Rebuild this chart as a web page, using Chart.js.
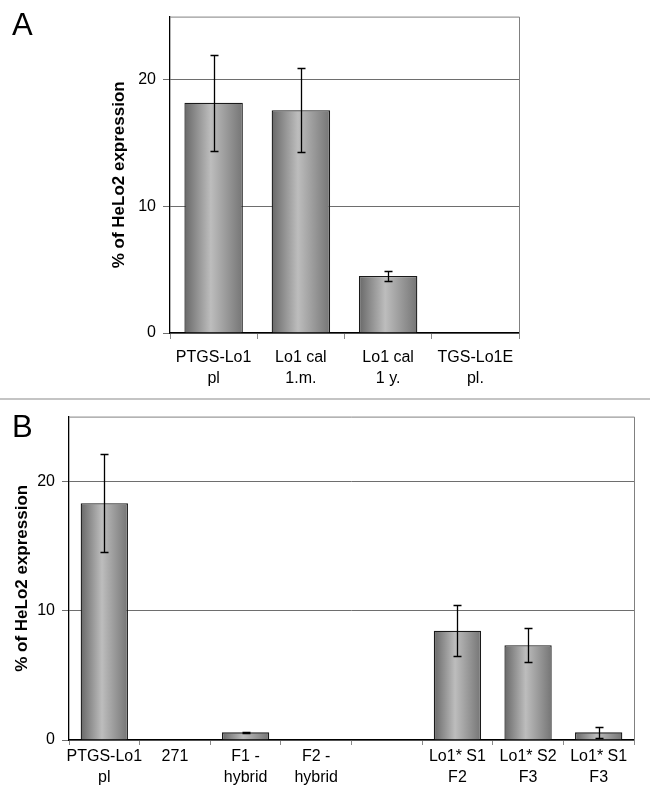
<!DOCTYPE html>
<html>
<head>
<meta charset="utf-8">
<script src="https://cdn.jsdelivr.net/npm/chart.js@4.4.1/dist/chart.umd.min.js"></script>
<style>
  html, body { margin: 0; padding: 0; background: #fff; }
  body { width: 650px; height: 804px; position: relative; overflow: hidden; font-family: "Liberation Sans", Arial, sans-serif; }
  canvas { position: absolute; left: 0; }
  #chart-a { top: 0; }
  #chart-b { top: 400px; }
  .tag { position: absolute; left: 12px; font-size: 31px; line-height: 31px; color: #000; }
  .sep { position: absolute; left: 0; top: 398px; width: 650px; height: 2px; background: #c4c4c4; }
</style>
</head>
<body>
<canvas id="chart-a" width="650" height="400"></canvas>
<canvas id="chart-b" width="650" height="404"></canvas>
<div class="sep"></div>
<div class="tag" style="top:9px">A</div>
<div class="tag" style="top:411px">B</div>
<script>
// panel A
const labelsA = [['PTGS-Lo1', 'pl'], ['Lo1 cal', '1.m.'], ['Lo1 cal', '1 y.'], ['TGS-Lo1E', 'pl.']];
const valuesA = [18.2, 17.6, 4.5, 0];
const errorsA = [3.8, 3.3, 0.43, 0];

// panel B
const labelsB = [['PTGS-Lo1', 'pl'], '271', ['F1 -', 'hybrid'], ['F2 -', 'hybrid'], '', ['Lo1* S1', 'F2'], ['Lo1* S2', 'F3'], ['Lo1* S1', 'F3']];
const valuesB = [18.3, 0, 0.59, 0, 0, 8.45, 7.33, 0.59];
const errorsB = [3.8, 0, 0.06, 0, 0, 1.95, 1.3, 0.42];

const yTicks = [0, 10, 20];
const yMax = 25;
const yTitle = '% of HeLo2 expression';

Chart.defaults.font.family = '"Liberation Sans", Arial, sans-serif';
Chart.defaults.color = '#000';

const el = (id) => document.getElementById(id);
const BAR_PCT = 0.67;

// horizontal shading across each bar, built from the x scale
const barFill = (ctx) => {
  const chart = ctx.chart;
  const xs = chart.scales.x;
  if (!chart.chartArea || !xs) return '#999';
  const cx = xs.getPixelForValue(ctx.dataIndex);
  const w = xs.width / chart.data.labels.length * BAR_PCT;
  const g = chart.ctx.createLinearGradient(cx - w / 2, 0, cx + w / 2, 0);
  g.addColorStop(0, '#686868');
  g.addColorStop(0.45, '#bdbdbd');
  g.addColorStop(1, '#757575');
  return g;
};

const errorBars = {
  id: 'errorBars',
  afterDatasetsDraw(chart) {
    const { ctx, scales: { y } } = chart;
    const ds = chart.data.datasets[0];
    const meta = chart.getDatasetMeta(0);
    ctx.save();
    ctx.strokeStyle = '#000';
    ctx.lineWidth = 1.3;
    meta.data.forEach((bar, i) => {
      const e = ds.errors[i];
      if (!e) return;
      const top = Math.round(y.getPixelForValue(ds.data[i] + e)) + 0.5;
      const bot = Math.round(y.getPixelForValue(ds.data[i] - e)) + 0.5;
      const x = Math.round(bar.x) + 0.5;
      ctx.beginPath();
      ctx.moveTo(x, top); ctx.lineTo(x, bot);
      ctx.moveTo(x - 4, top); ctx.lineTo(x + 4, top);
      ctx.moveTo(x - 4, bot); ctx.lineTo(x + 4, bot);
      ctx.stroke();
    });
    ctx.restore();
  }
};

const frame = {
  id: 'frame',
  beforeDatasetsDraw(chart) {
    const { ctx, chartArea: a } = chart;
    ctx.save();
    ctx.strokeStyle = '#808080';
    ctx.lineWidth = 1;
    ctx.beginPath();
    ctx.moveTo(a.left, a.top + 0.5); ctx.lineTo(a.right + 0.5, a.top + 0.5); ctx.lineTo(a.right + 0.5, a.bottom);
    ctx.stroke();
    ctx.restore();
  }
};

const makeChart = (id, labels, values, errors, box) => new Chart(el(id), {
  type: 'bar',
  data: {
    labels,
    datasets: [{
      data: values,
      errors,
      backgroundColor: barFill,
      borderColor: '#1a1a1a',
      borderWidth: (c) => (c.raw > 0 ? 1.3 : 0),
      barPercentage: BAR_PCT,
      categoryPercentage: 1
    }]
  },
  options: {
    responsive: false,
    animation: false,
    devicePixelRatio: 1,
    layout: { padding: { top: box.top, right: box.right, left: 0, bottom: 0 } },
    plugins: { legend: { display: false }, tooltip: { enabled: false } },
    scales: {
      x: {
        grid: { drawOnChartArea: false, offset: true, tickLength: box.xTick, color: '#8a8a8a' },
        border: { color: '#000', width: 1.3 },
        ticks: { font: { size: 16, lineHeight: 1.3 }, color: '#000', padding: box.xPad, maxRotation: 0, autoSkip: false },
        afterFit: (s) => { s.height = box.xHeight; }
      },
      y: {
        min: 0,
        max: yMax,
        afterBuildTicks: (s) => { s.ticks = yTicks.map(v => ({ value: v })); },
        grid: { color: '#6e6e6e', tickLength: 7 },
        border: { color: '#000', width: 1.3 },
        ticks: { font: { size: 16 }, color: '#000', padding: 7 },
        title: { display: true, text: yTitle, font: { size: 17, weight: 'bold' }, color: '#000', padding: { top: box.titlePad, bottom: 0 } },
        afterFit: (s) => { s.width = box.yWidth; }
      }
    }
  },
  plugins: [frame, errorBars]
});

makeChart('chart-a', labelsA, valuesA, errorsA, { top: 14, right: 131, yWidth: 170, xHeight: 67, xTick: 6, xPad: 8, titlePad: 109 });
makeChart('chart-b', labelsB, valuesB, errorsB, { top: 13, right: 16, yWidth: 69, xHeight: 64, xTick: 5, xPad: 1, titlePad: 12 });
</script>
</body>
</html>
